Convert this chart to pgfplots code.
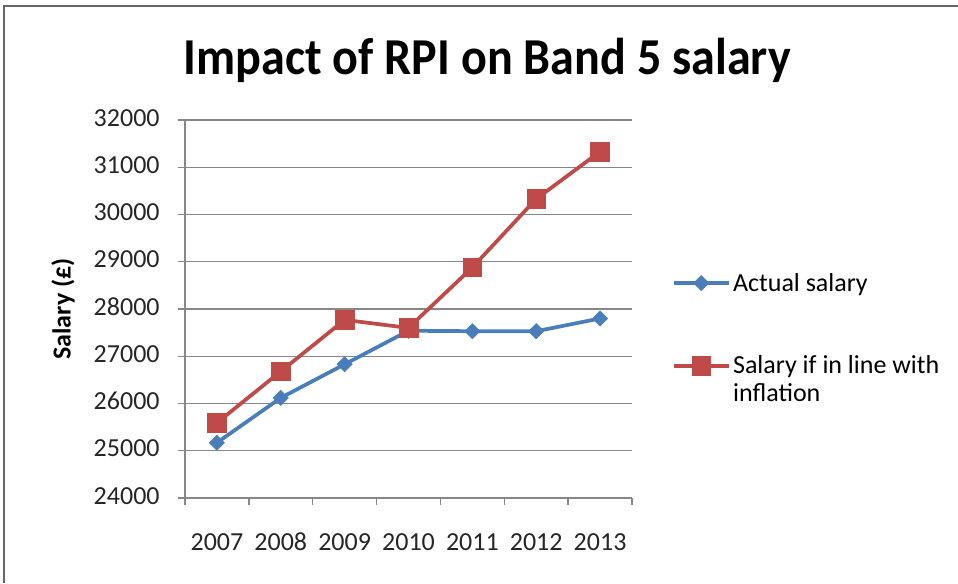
\documentclass[border=0pt]{standalone}
\usepackage{fontspec}
\setmainfont{Carlito}
\usepackage{pgfplots}
\pgfplotsset{compat=1.18}
\definecolor{xlblue}{HTML}{4A7EBB}
\definecolor{xlred}{HTML}{BE4B48}
\definecolor{gridgray}{HTML}{878787}
\begin{document}
\begin{tikzpicture}[x=1pt,y=1pt]
\path[use as bounding box] (0,0) rectangle (718.5,437.25);
\draw[gray!80!black, line width=1.2pt] (3,0) -- (3,432.75) -- (718.5,432.75);
\begin{axis}[
  at={(138.75pt,63.75pt)}, anchor=south west,
  scale only axis, width=335.25pt, height=283.5pt,
  xmin=-0.5, xmax=6.5, ymin=24000, ymax=32000,
  xtick={0,...,6}, xticklabels={2007,2008,2009,2010,2011,2012,2013},
  minor xtick={-0.5,0.5,...,6.5},
  major x tick style={draw=none},
  ytick distance=1000, scaled y ticks=false,
  axis x line*=bottom, axis y line*=left,
  axis line style={gridgray, line width=1pt},
  every tick/.style={gridgray, line width=1pt},
  tick align=outside, major tick length=5.5pt, minor tick length=5.5pt,
  ymajorgrids, grid style={gridgray, line width=1.1pt},
  /pgf/number format/1000 sep={}, /pgf/number format/assume math mode=true,
  typeset ticklabels with strut,
  tick label style={font=\fontsize{19.5}{23}\selectfont, text=black!85},
  xticklabel style={yshift=-14pt},
  yticklabel style={xshift=-10pt},
  title={\scalebox{0.975}[1.05]{Impact of RPI on Band 5 salary}},
  title style={at={(rel axis cs:0.676,1.098)}, anchor=base, font=\fontsize{37}{44}\selectfont\bfseries},
  ylabel={Salary (£)},
  ylabel style={at={(rel axis cs:-0.273,0.5)}, anchor=center, font=\fontsize{19.5}{23}\selectfont\bfseries},
  legend cell align=left,
  legend style={at={(rel axis cs:1.08,0.61)}, anchor=north west, draw=none, fill=none,
    font=\fontsize{19.5}{21}\selectfont, row sep=43pt, nodes={align=left, inner xsep=2pt}},
  legend image code/.code={\draw[mark repeat=2,mark phase=2] plot coordinates {(0pt,0pt) (20.5pt,0pt) (41pt,0pt)};},
  clip=false,
]
\addplot[xlblue, line width=2.8pt, mark=square*, mark size=4pt, mark options={rotate=45, solid, fill=xlblue, line width=0.5pt}]
  coordinates {(0,25170) (1,26120) (2,26830) (3,27540) (4,27530) (5,27530) (6,27800)};
\addlegendentry{Actual salary}
\addplot[xlred, line width=2.8pt, mark=square*, mark size=7pt, mark options={solid, fill=xlred, line width=0.5pt},
  legend image code/.code={\draw[mark repeat=2,mark phase=2] plot coordinates {(0pt,10.5pt) (20.5pt,10.5pt) (41pt,10.5pt)};}]
  coordinates {(0,25590) (1,26680) (2,27770) (3,27600) (4,28880) (5,30330) (6,31330)};
\addlegendentry{Salary if in line with\\inflation}
\end{axis}
\end{tikzpicture}
\end{document}
